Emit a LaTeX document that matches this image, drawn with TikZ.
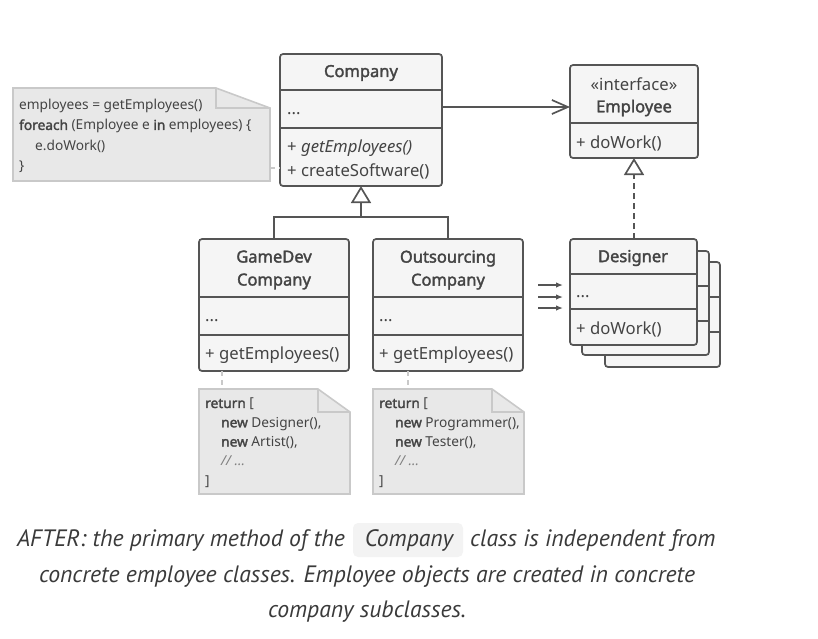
\documentclass[tikz,border=0pt]{standalone}
\usepackage{fontspec}
\setmainfont{Noto Sans}[BoldFont={Noto Sans}, BoldFeatures={FakeBold=2}]
\newfontfamily\capfont{PT Sans}
\usetikzlibrary{arrows.meta}
\definecolor{bord}{HTML}{555555}
\definecolor{boxfill}{HTML}{F5F5F5}
\definecolor{txtc}{HTML}{444444}
\definecolor{notefill}{HTML}{E8E8E8}
\definecolor{noteline}{HTML}{C9C9C9}
\definecolor{capc}{HTML}{3A3A3A}
\definecolor{codebg}{HTML}{F3F3F3}
\tikzset{
  box/.style={draw=bord, fill=boxfill, line width=1.7pt, rounded corners=3pt, inner sep=0pt, outer sep=0pt, anchor=north west},
  divider/.style={draw=bord, line width=1.7pt},
  txt/.style={text=txtc, inner sep=0pt, font=\fontsize{16.7}{20}\selectfont},
  hdr/.style={text=txtc, inner sep=0pt, align=center, font=\fontsize{16.5}{23}\selectfont\bfseries},
  notetxt/.style={text=txtc, inner sep=0pt, anchor=north west, align=left},
  notebox/.style={draw=noteline, fill=notefill, line width=1.6pt, line join=miter},
  conn/.style={draw=bord, line width=1.7pt},
  inh/.style={conn, -{Triangle[open, length=17pt, width=20pt, line width=1.7pt]}},
  assoc/.style={conn, -{Straight Barb[length=16pt, width=14pt, line width=1.7pt]}},
  small/.style={draw=bord, line width=1.3pt, -{Latex[length=7pt, width=5.5pt]}},
  notelink/.style={draw=noteline, line width=1.4pt, dashed, dash pattern=on 5pt off 4pt},
  captxt/.style={text=capc, inner sep=0pt, font=\capfont\itshape\fontsize{23.7}{28}\selectfont},
}
\begin{document}
\begin{tikzpicture}[x=1pt, y=-1pt]
\useasboundingbox (0,0) rectangle (818,638);
% ---------------- Company
\node[box, minimum width=162pt, minimum height=132pt] (company) at (280,54) {};
\draw[divider] (280,90) -- (442,90);
\draw[divider] (280,128) -- (442,128);
\node[hdr] (companyT) at (361,73) {Company};
\node[txt, anchor=west] (companyA) at (287,114) {...};
\node[txt, anchor=west] (companyM1) at (287,148) {+ \textit{getEmployees()}};
\node[txt, anchor=west] (companyM2) at (287,171) {+ createSoftware()};
% ---------------- Employee
\node[box, minimum width=128pt, minimum height=93pt] (employee) at (570,65) {};
\draw[divider] (570,123) -- (698,123);
\node[txt, anchor=center] (employeeS) at (634,84) {«interface»};
\node[hdr] (employeeT) at (634,108) {Employee};
\node[txt, anchor=west] (employeeM) at (576,143) {+ doWork()};
% ---------------- GameDev
\node[box, minimum width=150pt, minimum height=132pt] (gamedev) at (199,239) {};
\draw[divider] (199,297) -- (349,297);
\draw[divider] (199,335) -- (349,335);
\node[hdr] (gamedevT) at (274,270) {GameDev\\Company};
\node[txt, anchor=west] (gamedevA) at (205,321) {...};
\node[txt, anchor=west] (gamedevM) at (205,355) {+ getEmployees()};
% ---------------- Outsourcing
\node[box, minimum width=150pt, minimum height=132pt] (outs) at (373,239) {};
\draw[divider] (373,297) -- (523,297);
\draw[divider] (373,335) -- (523,335);
\node[hdr] (outsT) at (448,270) {Outsourcing\\Company};
\node[txt, anchor=west] (outsA) at (379,321) {...};
\node[txt, anchor=west] (outsM) at (379,355) {+ getEmployees()};
% ---------------- Designer stack
\node[box, minimum width=115pt, minimum height=105pt] (designer3) at (605,262) {};
\draw[divider] (605,297) -- (720,297);
\draw[divider] (605,332) -- (720,332);
\node[box, minimum width=127pt, minimum height=104pt] (designer2) at (582,251) {};
\draw[divider] (582,286) -- (709,286);
\draw[divider] (582,321) -- (709,321);
\node[box, minimum width=127pt, minimum height=106pt] (designer) at (570,239) {};
\draw[divider] (570,274) -- (697,274);
\draw[divider] (570,309) -- (697,309);
\node[hdr] (designerT) at (633,258) {Designer};
\node[txt, anchor=west] (designerA) at (576,297) {...};
\node[txt, anchor=west] (designerM) at (576,329) {+ doWork()};
% ---------------- connectors
\draw[assoc] (company.east |- 0,107) -- (employee.west |- 0,107);
\draw[conn] (gamedev.north) |- (outs.north |- 0,217) -- (outs.north);
\draw[inh] (company.south |- 0,217) -- (company.south);
\draw[inh, dashed, dash pattern=on 6pt off 4pt] (designer.north -| employee.south) -- (employee.south);
\coordinate (s1) at (538,285); \coordinate (e1) at (563,285);
\coordinate (s2) at (538,297); \coordinate (e2) at (563,297);
\coordinate (s3) at (538,308); \coordinate (e3) at (563,308);
\draw[small] (s1) -- (e1);
\draw[small] (s2) -- (e2);
\draw[small] (s3) -- (e3);
% ---------------- notes
\draw[notebox] (13,88) -- (216,88) -- (270,108) -- (270,181) -- (13,181) -- cycle;
\draw[noteline, line width=1.6pt] (216,88) -- (216,108) -- (270,108);
\node[notetxt, font=\fontsize{13.7}{20.3}\selectfont] (note1) at (19,99) {employees = getEmployees()\\\textbf{foreach} (Employee e \textbf{in} employees) \{\\\hspace*{16pt}e.doWork()\\\}};
\coordinate (n1) at (270,168);
\draw[notelink] (n1) -- (company.west |- n1);

\draw[notebox] (199,389) -- (318,389) -- (350,412) -- (350,494) -- (199,494) -- cycle;
\draw[noteline, line width=1.6pt] (318,389) -- (318,412) -- (350,412);
\node[notetxt, font=\fontsize{13.7}{19.3}\selectfont] (note2) at (205,398) {\textbf{return} [\\\hspace*{16pt}\textbf{new} Designer(),\\\hspace*{16pt}\textbf{new} Artist(),\\\hspace*{16pt}\textcolor{gray}{\textit{// ...}}\\{]}};
\coordinate (n2) at (222,389);
\draw[notelink] (gamedev.south -| n2) -- (n2);

\draw[notebox] (373,389) -- (492,389) -- (524,412) -- (524,494) -- (373,494) -- cycle;
\draw[noteline, line width=1.6pt] (492,389) -- (492,412) -- (524,412);
\node[notetxt, font=\fontsize{13.7}{19.3}\selectfont] (note3) at (379,398) {\textbf{return} [\\\hspace*{16pt}\textbf{new} Programmer(),\\\hspace*{16pt}\textbf{new} Tester(),\\\hspace*{16pt}\textcolor{gray}{\textit{// ...}}\\{]}};
\coordinate (n3) at (408,389);
\draw[notelink] (outs.south -| n3) -- (n3);
% ---------------- caption
\node[fill=codebg, rounded corners=5pt, minimum width=110pt, minimum height=34pt, inner sep=0pt] (code) at (408,540) {};
\node[captxt, anchor=mid] (codeT) at (409,544) {Company};
\node[captxt, anchor=mid east] (cap1a) at (345,544) {AFTER: the primary method of the};
\node[captxt, anchor=mid west] (cap1b) at (470,544) {class is independent from};
\node[captxt, anchor=mid] (cap2) at (367,580) {concrete employee classes. Employee objects are created in concrete};
\node[captxt, anchor=mid] (cap3) at (367,615) {company subclasses.};
\end{tikzpicture}
\end{document}
